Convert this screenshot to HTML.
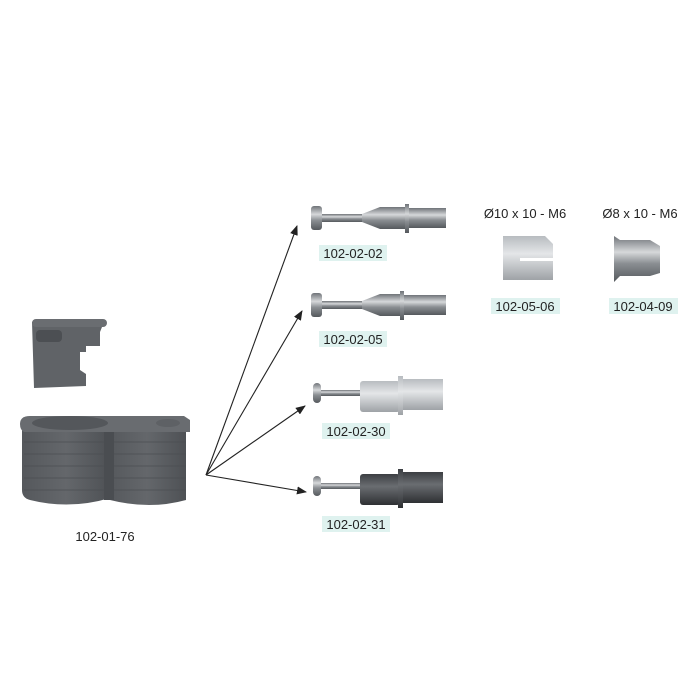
<!DOCTYPE html>
<html><head><style>
body{margin:0;background:#fff;}
svg{display:block}
text{font-family:"Liberation Sans",sans-serif;font-size:13px;fill:#222}
</style></head><body>
<svg width="700" height="700" viewBox="0 0 700 700" xmlns="http://www.w3.org/2000/svg">
<defs>
<linearGradient id="met" x1="0" y1="0" x2="0" y2="1">
<stop offset="0" stop-color="#6f7378"/><stop offset="0.35" stop-color="#d6d8da"/><stop offset="0.6" stop-color="#8a8e92"/><stop offset="1" stop-color="#55595d"/></linearGradient>
<linearGradient id="lite" x1="0" y1="0" x2="0" y2="1">
<stop offset="0" stop-color="#b8bcc0"/><stop offset="0.4" stop-color="#e4e6e8"/><stop offset="1" stop-color="#9ea2a6"/></linearGradient>
<linearGradient id="dark" x1="0" y1="0" x2="0" y2="1">
<stop offset="0" stop-color="#3c3f43"/><stop offset="0.4" stop-color="#6a6d71"/><stop offset="1" stop-color="#2e3033"/></linearGradient>
<linearGradient id="cyl" x1="0" y1="0" x2="1" y2="0">
<stop offset="0" stop-color="#55585c"/><stop offset="0.5" stop-color="#64676b"/><stop offset="1" stop-color="#4e5155"/></linearGradient>
<marker id="ar" markerWidth="10" markerHeight="8" refX="9" refY="4" orient="auto" markerUnits="userSpaceOnUse">
<path d="M0,0 L10,4 L0,8 z" fill="#222"/></marker>
</defs>
<!-- small part -->
<path d="M32,322 L104,322 L100,332 L100,346 L86,346 L86,352 L80,352 L80,370 L86,374 L86,386 L34,388 Z" fill="#606367"/>
<rect x="32" y="319" width="75" height="8" rx="4" fill="#6a6d71"/>
<rect x="36" y="330" width="26" height="12" rx="4" fill="#4c4f53"/>
<!-- big part -->
<path d="M22,430 L110,430 L110,498 Q70,510 30,500 Q22,498 22,490 Z" fill="url(#cyl)"/>
<path d="M108,430 L186,430 L186,500 Q150,510 110,500 Z" fill="url(#cyl)"/>
<g stroke="#4a4d51" stroke-width="1" opacity="0.7">
<line x1="24" y1="442" x2="186" y2="442"/><line x1="24" y1="454" x2="186" y2="454"/>
<line x1="24" y1="466" x2="186" y2="466"/><line x1="24" y1="478" x2="186" y2="478"/>
<line x1="24" y1="490" x2="186" y2="490"/>
</g>
<rect x="104" y="432" width="10" height="68" fill="#4a4d51"/>
<path d="M20,424 Q20,416 30,416 L184,416 L190,420 L190,432 L24,432 Q20,430 20,424Z" fill="#696c70"/>
<ellipse cx="70" cy="423" rx="38" ry="7" fill="#54575b"/>
<ellipse cx="168" cy="423" rx="12" ry="4" fill="#5e6165"/>
<text x="105" y="541" text-anchor="middle">102-01-76</text>
<!-- arrows -->
<g stroke="#222" stroke-width="1.1" fill="none" marker-end="url(#ar)">
<line x1="206" y1="475" x2="297" y2="226"/>
<line x1="206" y1="475" x2="302" y2="311"/>
<line x1="206" y1="475" x2="305" y2="406"/>
<line x1="206" y1="475" x2="306" y2="492"/>
</g>
<!-- pin 02 -->
<g>
<rect x="311" y="206" width="11" height="24" rx="3" fill="url(#met)"/>
<rect x="322" y="214" width="42" height="8" fill="url(#met)"/>
<path d="M362,214 L380,207 L407,207 L407,229 L380,229 L362,222Z" fill="url(#met)"/>
<rect x="405" y="204" width="4" height="29" fill="url(#met)"/>
<rect x="409" y="208" width="37" height="20" fill="url(#met)"/>
</g>
<rect x="319" y="245" width="68" height="16" fill="#dff2ef"/>
<text x="353" y="258" text-anchor="middle">102-02-02</text>
<!-- pin 05 -->
<g>
<rect x="311" y="293" width="11" height="24" rx="3" fill="url(#met)"/>
<rect x="322" y="301" width="42" height="8" fill="url(#met)"/>
<path d="M362,301 L380,294 L402,294 L402,316 L380,316 L362,309Z" fill="url(#met)"/>
<rect x="400" y="291" width="4" height="29" fill="url(#met)"/>
<rect x="404" y="295" width="42" height="20" fill="url(#met)"/>
</g>
<rect x="319" y="331" width="68" height="16" fill="#dff2ef"/>
<text x="353" y="344" text-anchor="middle">102-02-05</text>
<!-- pin 30 -->
<g>
<rect x="313" y="383" width="8" height="20" rx="4" fill="url(#met)"/>
<rect x="321" y="390" width="40" height="6" fill="url(#met)"/>
<rect x="360" y="381" width="40" height="31" rx="3" fill="url(#lite)"/>
<rect x="398" y="376" width="5" height="39" fill="url(#lite)"/>
<rect x="403" y="379" width="40" height="31" fill="url(#lite)"/>
</g>
<rect x="322" y="423" width="68" height="16" fill="#dff2ef"/>
<text x="356" y="436" text-anchor="middle">102-02-30</text>
<!-- pin 31 -->
<g>
<rect x="313" y="476" width="8" height="20" rx="4" fill="url(#met)"/>
<rect x="321" y="483" width="40" height="6" fill="url(#met)"/>
<rect x="360" y="474" width="40" height="31" rx="3" fill="url(#dark)"/>
<rect x="398" y="469" width="5" height="39" fill="url(#dark)"/>
<rect x="403" y="472" width="40" height="31" fill="url(#dark)"/>
</g>
<rect x="322" y="516" width="68" height="16" fill="#dff2ef"/>
<text x="356" y="529" text-anchor="middle">102-02-31</text>
<!-- inserts -->
<text x="525" y="218" text-anchor="middle">Ø10 x 10 - M6</text>
<text x="640" y="218" text-anchor="middle">Ø8 x 10 - M6</text>
<path d="M503,236 L545,236 L553,244 L553,258 L520,258 L520,261 L553,261 L553,280 L503,280 Z" fill="url(#lite)"/>
<path d="M614,236 L620,240 L650,240 L660,246 L660,273 L650,276 L620,276 L614,282 Z" fill="url(#met)"/>
<rect x="491" y="298" width="69" height="16" fill="#dff2ef"/>
<text x="525" y="311" text-anchor="middle">102-05-06</text>
<rect x="609" y="298" width="69" height="16" fill="#dff2ef"/>
<text x="643" y="311" text-anchor="middle">102-04-09</text>
</svg>
</body></html>
